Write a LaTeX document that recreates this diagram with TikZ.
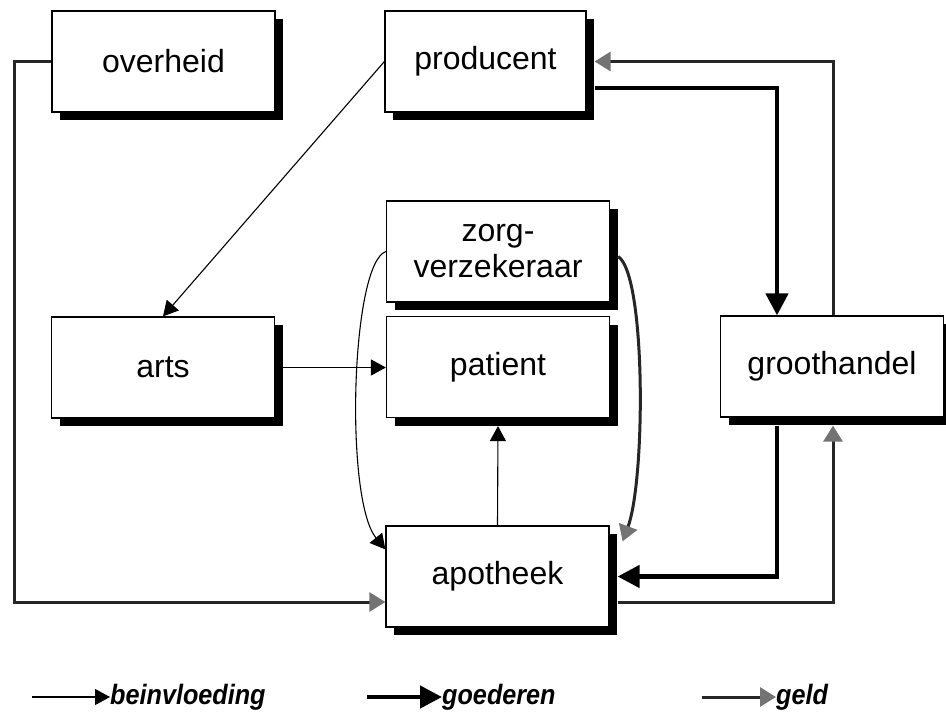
\documentclass[tikz,border=0pt]{standalone}
\usepackage{fontspec}
\setmainfont{Liberation Sans}
\newfontfamily\legendfont[FakeStretch=0.9]{Liberation Sans}
\usetikzlibrary{arrows.meta,shadows,calc}

\begin{document}
\begin{tikzpicture}[x=1pt,y=-1pt,
  box/.style={draw=black, line width=1.2pt, fill=white,
    minimum width=223pt, minimum height=101pt, inner sep=0pt,
    font=\fontsize{32}{36}\selectfont, align=center,
    drop shadow={shadow xshift=8pt, shadow yshift=-8pt, fill=black, opacity=1}},
  infl/.style={line width=1.1pt, draw=black, -{Triangle[length=15pt,width=16pt]}},
  goods/.style={line width=4.5pt, draw=black, -{Triangle[length=22pt,width=22pt]}},
  money/.style={line width=3pt, draw=black!85, -{Triangle[length=16pt,width=19pt,color=black!55]}},
  legend/.style={font=\legendfont\fontsize{28}{32}\selectfont\bfseries\itshape, anchor=base west, inner sep=0pt}]

  \useasboundingbox (0,0) rectangle (946,715);
  \fill[white] (0,0) rectangle (946,715);

  % actors
  \node[box] (ov) at (163.5,61.5) {overheid};
  \node[box, minimum width=201pt] (pr) at (485.5,61.5) {producent};
  \node[box] (zv) at (498,251.5) {zorg-\\verzekeraar};
  \node[box] (pa) at (498,367) {patient};
  \node[box] (ar) at (163,367.5) {arts};
  \node[box] (gh) at (832,366.5) {groothandel};
  \node[box] (ap) at (497.5,576.5) {apotheek};

  % money from the government round the left side into the pharmacy
  \coordinate (lft) at (14,0);
  \coordinate (apIn) at ([yshift=-25.5pt]ap.west);
  \draw[money] (ov.west) -- (lft |- ov.west) -- (lft |- apIn) -- (apIn);

  % influence
  \draw[infl] (pr.west) -- (ar.north);
  \draw[infl] ([xshift=8pt]ar.east) -- (ar.east -| pa.west);
  \draw[infl] (ap.north) -- ([yshift=-8pt]pa.south);
  \draw[infl] (zv.west) .. controls +(-35,12) and +(-41,-50) .. ([yshift=-24pt]ap.north west);

  % insurer pays the pharmacy
  \draw[money] ([xshift=8pt,yshift=-5pt]zv.east) .. controls +(28,18) and +(23,-62) .. ([xshift=13pt,yshift=-16pt]ap.north east);

  % goods and money between producer, wholesaler and pharmacy
  \draw[goods] ([xshift=8pt,yshift=-26.5pt]pr.east) -| ([xshift=-55pt]gh.north);
  \draw[money] ([xshift=1pt]gh.north) |- ([xshift=8pt]pr.east);
  \draw[goods] ([xshift=-55pt,yshift=-8pt]gh.south) |- ([xshift=8pt]ap.east);
  \draw[money] ([xshift=8pt,yshift=-25.5pt]ap.east) -| ([xshift=1pt,yshift=-8pt]gh.south);

  % legend
  \node[legend] (lg1) at (110,704) {beinvloeding};
  \node[legend] (lg2) at (442,704) {goederen};
  \node[legend] (lg3) at (776,704) {geld};
  \coordinate (l1) at (32,697);
  \coordinate (l2) at (367,697);
  \coordinate (l3) at (702,697);
  \draw[infl] (l1) -- (l1 -| lg1.west);
  \draw[goods] (l2) -- (l2 -| lg2.west);
  \draw[money] (l3) -- (l3 -| lg3.west);
\end{tikzpicture}
\end{document}
